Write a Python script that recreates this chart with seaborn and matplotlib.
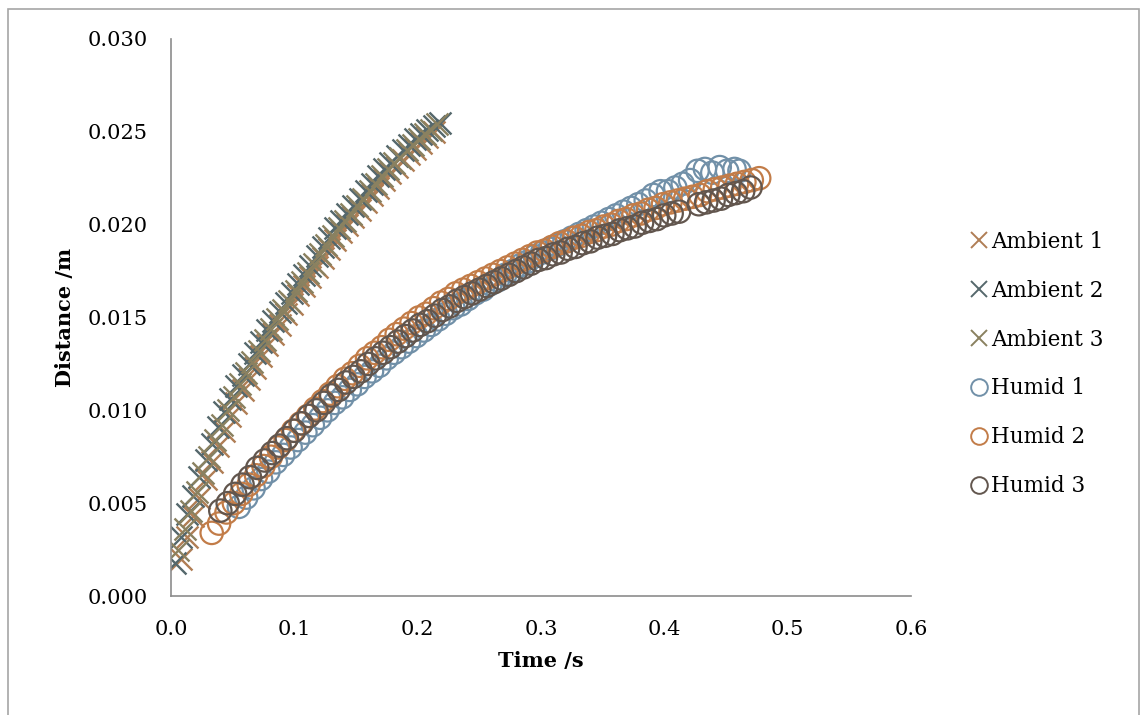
import matplotlib
matplotlib.use("Agg")
import matplotlib.pyplot as plt
import seaborn as sns
from matplotlib.lines import Line2D
from matplotlib.patches import Rectangle

# ---- data (time in s, distance in m)
amb1_t = [0.008, 0.013, 0.018, 0.023, 0.028, 0.033, 0.038, 0.043, 0.048, 0.053, 0.058, 0.063, 0.068, 0.073,
          0.078, 0.083, 0.088, 0.093, 0.098, 0.103, 0.108, 0.113, 0.118, 0.123, 0.128, 0.133, 0.138, 0.143,
          0.148, 0.153, 0.158, 0.163, 0.168, 0.173, 0.178, 0.183, 0.188, 0.193, 0.198, 0.203, 0.208, 0.213]
amb1_d = [0.0020, 0.0032, 0.0043, 0.0053, 0.0063, 0.0072, 0.0081, 0.0089, 0.0097, 0.0104, 0.0111, 0.0117,
          0.0123, 0.0129, 0.0135, 0.0141, 0.0146, 0.0152, 0.0157, 0.0162, 0.0167, 0.0172, 0.0177, 0.0182,
          0.0187, 0.0192, 0.0196, 0.0200, 0.0204, 0.0208, 0.0212, 0.0216, 0.0220, 0.0224, 0.0228, 0.0231,
          0.0235, 0.0238, 0.0241, 0.0244, 0.0247, 0.0250]

amb2_t = [0.003, 0.008, 0.013, 0.018, 0.023, 0.028, 0.033, 0.038, 0.043, 0.048, 0.053, 0.058, 0.063, 0.068,
          0.073, 0.078, 0.083, 0.088, 0.093, 0.098, 0.103, 0.108, 0.113, 0.118, 0.123, 0.128, 0.133, 0.138,
          0.143, 0.148, 0.153, 0.158, 0.163, 0.168, 0.173, 0.178, 0.183, 0.188, 0.193, 0.198, 0.203, 0.208,
          0.213, 0.218]
amb2_d = [0.0018, 0.0032, 0.0044, 0.0054, 0.0064, 0.0073, 0.0082, 0.0091, 0.0099, 0.0106, 0.0113, 0.0119,
          0.0125, 0.0131, 0.0137, 0.0143, 0.0148, 0.0153, 0.0158, 0.0163, 0.0168, 0.0173, 0.0178, 0.0183,
          0.0188, 0.0193, 0.0198, 0.0202, 0.0206, 0.0210, 0.0214, 0.0218, 0.0222, 0.0226, 0.0230, 0.0233,
          0.0237, 0.0240, 0.0243, 0.0246, 0.0249, 0.0251, 0.0253, 0.0255]

amb3_t = [0.006, 0.011, 0.016, 0.021, 0.026, 0.031, 0.036, 0.041, 0.046, 0.051, 0.056, 0.061, 0.066, 0.071,
          0.076, 0.081, 0.086, 0.091, 0.096, 0.101, 0.106, 0.111, 0.116, 0.121, 0.126, 0.131, 0.136, 0.141,
          0.146, 0.151, 0.156, 0.161, 0.166, 0.171, 0.176, 0.181, 0.186, 0.191, 0.196, 0.201, 0.206, 0.211,
          0.216]
amb3_d = [0.0025, 0.0036, 0.0046, 0.0056, 0.0066, 0.0075, 0.0084, 0.0092, 0.0100, 0.0107, 0.0114, 0.0120,
          0.0126, 0.0132, 0.0138, 0.0144, 0.0149, 0.0154, 0.0159, 0.0164, 0.0169, 0.0174, 0.0179, 0.0184,
          0.0189, 0.0194, 0.0198, 0.0202, 0.0206, 0.0210, 0.0214, 0.0218, 0.0222, 0.0226, 0.0230, 0.0233,
          0.0236, 0.0240, 0.0243, 0.0246, 0.0249, 0.0251, 0.0254]

hum1_t = [0.055, 0.061, 0.067, 0.073, 0.079, 0.085, 0.091, 0.097, 0.103, 0.109, 0.115, 0.121, 0.127, 0.133,
          0.139, 0.145, 0.151, 0.157, 0.163, 0.169, 0.175, 0.181, 0.187, 0.193, 0.199, 0.205, 0.211, 0.217,
          0.223, 0.229, 0.235, 0.241, 0.247, 0.253, 0.259, 0.265, 0.271, 0.277, 0.283, 0.289, 0.295, 0.301,
          0.307, 0.313, 0.319, 0.325, 0.331, 0.337, 0.343, 0.349, 0.355, 0.361, 0.367, 0.373, 0.379, 0.385,
          0.391, 0.397, 0.403, 0.409, 0.415, 0.421, 0.427, 0.433, 0.439, 0.445, 0.451, 0.457, 0.461]
hum1_d = [0.0048, 0.0053, 0.0058, 0.0063, 0.0067, 0.0072, 0.0076, 0.0080, 0.0084, 0.0088, 0.0092, 0.0096,
          0.0100, 0.0104, 0.0107, 0.0111, 0.0114, 0.0118, 0.0121, 0.0124, 0.0128, 0.0131, 0.0134, 0.0137,
          0.0140, 0.0143, 0.0146, 0.0149, 0.0152, 0.0155, 0.0157, 0.0160, 0.0163, 0.0165, 0.0168, 0.0170,
          0.0173, 0.0175, 0.0178, 0.0180, 0.0183, 0.0185, 0.0187, 0.0189, 0.0191, 0.0193, 0.0195, 0.0197,
          0.0199, 0.0201, 0.0203, 0.0205, 0.0207, 0.0209, 0.0211, 0.0213, 0.0216, 0.0218, 0.0218, 0.0220,
          0.0222, 0.0224, 0.0229, 0.0230, 0.0228, 0.0231, 0.0229, 0.0230, 0.0229]

hum2_t = [0.033, 0.039, 0.045, 0.051, 0.057, 0.063, 0.069, 0.075, 0.081, 0.087, 0.093, 0.099, 0.105, 0.111,
          0.117, 0.123, 0.129, 0.135, 0.141, 0.147, 0.153, 0.159, 0.165, 0.171, 0.177, 0.183, 0.189, 0.195,
          0.201, 0.207, 0.213, 0.219, 0.225, 0.231, 0.237, 0.243, 0.249, 0.255, 0.261, 0.267, 0.273, 0.279,
          0.285, 0.291, 0.297, 0.303, 0.309, 0.315, 0.321, 0.327, 0.333, 0.339, 0.345, 0.351, 0.357, 0.363,
          0.369, 0.375, 0.381, 0.387, 0.393, 0.399, 0.405, 0.411, 0.417, 0.423, 0.429, 0.435, 0.441, 0.447,
          0.453, 0.459, 0.465, 0.471, 0.477]
hum2_d = [0.0034, 0.0039, 0.0045, 0.0050, 0.0055, 0.0060, 0.0065, 0.0070, 0.0075, 0.0080, 0.0084, 0.0089,
          0.0093, 0.0097, 0.0101, 0.0105, 0.0109, 0.0113, 0.0117, 0.0120, 0.0124, 0.0128, 0.0131, 0.0134,
          0.0138, 0.0141, 0.0144, 0.0147, 0.0150, 0.0152, 0.0155, 0.0158, 0.0160, 0.0163, 0.0165, 0.0167,
          0.0169, 0.0171, 0.0173, 0.0175, 0.0177, 0.0179, 0.0181, 0.0183, 0.0185, 0.0186, 0.0188, 0.0190,
          0.0191, 0.0193, 0.0194, 0.0196, 0.0197, 0.0199, 0.0200, 0.0202, 0.0203, 0.0205, 0.0206, 0.0208,
          0.0209, 0.0211, 0.0212, 0.0213, 0.0214, 0.0215, 0.0216, 0.0218, 0.0219, 0.0220, 0.0221, 0.0222,
          0.0223, 0.0224, 0.0225]

hum3_t = [0.040, 0.046, 0.052, 0.058, 0.064, 0.070, 0.076, 0.082, 0.088, 0.094, 0.100, 0.106, 0.112, 0.118,
          0.124, 0.130, 0.136, 0.142, 0.148, 0.154, 0.160, 0.166, 0.172, 0.178, 0.184, 0.190, 0.196, 0.202,
          0.208, 0.214, 0.220, 0.226, 0.232, 0.238, 0.244, 0.250, 0.256, 0.262, 0.268, 0.274, 0.280, 0.286,
          0.292, 0.298, 0.304, 0.310, 0.316, 0.322, 0.328, 0.334, 0.340, 0.346, 0.352, 0.358, 0.364, 0.370,
          0.376, 0.382, 0.388, 0.394, 0.400, 0.406, 0.412, 0.428, 0.434, 0.440, 0.446, 0.452, 0.458, 0.464,
          0.470]
hum3_d = [0.0046, 0.0050, 0.0055, 0.0060, 0.0064, 0.0069, 0.0073, 0.0077, 0.0081, 0.0085, 0.0089, 0.0093,
          0.0097, 0.0100, 0.0104, 0.0108, 0.0111, 0.0115, 0.0118, 0.0121, 0.0125, 0.0128, 0.0131, 0.0134,
          0.0137, 0.0140, 0.0143, 0.0146, 0.0148, 0.0151, 0.0154, 0.0156, 0.0159, 0.0161, 0.0163, 0.0165,
          0.0167, 0.0169, 0.0171, 0.0173, 0.0175, 0.0177, 0.0179, 0.0181, 0.0182, 0.0184, 0.0185, 0.0187,
          0.0188, 0.0190, 0.0191, 0.0193, 0.0194, 0.0195, 0.0197, 0.0198, 0.0199, 0.0201, 0.0202, 0.0203,
          0.0205, 0.0206, 0.0207, 0.0211, 0.0212, 0.0213, 0.0214, 0.0216, 0.0217, 0.0218, 0.0220]

series_names = ["Ambient 1", "Ambient 2", "Ambient 3", "Humid 1", "Humid 2", "Humid 3"]
series_t = [amb1_t, amb2_t, amb3_t, hum1_t, hum2_t, hum3_t]
series_d = [amb1_d, amb2_d, amb3_d, hum1_d, hum2_d, hum3_d]
series_marker = ["x", "x", "x", "o", "o", "o"]
series_color = ["#b07e55", "#55686c", "#8a8160", "#7190a8", "#c27c48", "#62564e"]

x_ticks = [0.0, 0.1, 0.2, 0.3, 0.4, 0.5, 0.6]
y_ticks = [0.000, 0.005, 0.010, 0.015, 0.020, 0.025, 0.030]

sns.set_style("white")
plt.rcParams["font.family"] = ["DejaVu Serif", "DejaVu Sans"]
plt.rcParams["text.color"] = "black"
plt.rcParams["axes.labelcolor"] = "black"
plt.rcParams["xtick.color"] = "black"
plt.rcParams["ytick.color"] = "black"

fig = plt.figure(figsize=(11.4, 7.15), dpi=100)
ax = fig.add_axes([0.150, 0.1664, 0.649, 0.7791])

for name, t, d, m, c in zip(series_names, series_t, series_d, series_marker, series_color):
    if m == "o":
        sns.scatterplot(x=t, y=d, ax=ax, marker="o", s=260, color=c, linewidth=1.6)
        ax.collections[-1].set_facecolor("none")
        ax.collections[-1].set_edgecolor(c)
    else:
        sns.scatterplot(x=t, y=d, ax=ax, marker="x", s=250, color=c, linewidth=1.7)

ax.set_xlim(0, 0.6)
ax.set_ylim(0, 0.030)
ax.set_xticks(x_ticks)
ax.set_yticks(y_ticks)
ax.set_xticklabels([f"{v:.1f}" for v in x_ticks])
ax.set_yticklabels([f"{v:.3f}" for v in y_ticks])
ax.tick_params(axis="both", which="major", direction="out", length=6, width=1,
               color="#8c8c8c", labelcolor="black", labelsize=15, pad=11)

for side in ["top", "right"]:
    ax.spines[side].set_visible(False)
for side in ["left", "bottom"]:
    ax.spines[side].set_color("#8c8c8c")
    ax.spines[side].set_linewidth(1.2)

ax.set_xlabel("Time /s", fontsize=15, fontweight="bold", labelpad=9, color="black")
ax.set_ylabel("Distance /m", fontsize=15, fontweight="bold", labelpad=9, color="black")

handles = []
for name, m, c in zip(series_names, series_marker, series_color):
    handles.append(Line2D([], [], linestyle="none", marker=m, markersize=12,
                          markerfacecolor="none", markeredgecolor=c, markeredgewidth=1.4,
                          label=name))
leg = ax.legend(handles=handles, loc="center left", bbox_to_anchor=(1.081, 0.4165), frameon=False,
                fontsize=15.5, handlelength=0.8, handletextpad=0.15, labelspacing=1.25,
                borderaxespad=0, borderpad=0)
for txt in leg.get_texts():
    txt.set_color("black")

# thin grey border around the whole chart area
fig.patches.append(Rectangle((8 / 1140, -0.05), 1131 / 1140, 1.05 - 9 / 715,
                             transform=fig.transFigure, fill=False,
                             edgecolor="#a6a6a6", linewidth=1.2))

fig.savefig("out.png", dpi=100)
